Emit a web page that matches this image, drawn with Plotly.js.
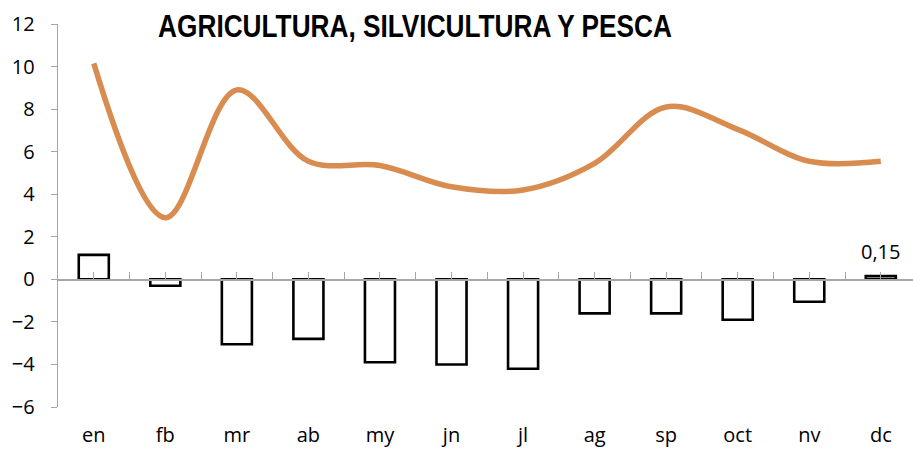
<!DOCTYPE html>
<html>
<head>
<meta charset="utf-8">
<script src="https://cdn.plot.ly/plotly-3.0.1.min.js"></script>
<style>html,body{margin:0;padding:0;background:#fff;}#chart{width:913px;height:449px;}</style>
</head>
<body>
<div id="chart"></div>
<script>
const months = ['en','fb','mr','ab','my','jn','jl','ag','sp','oct','nv','dc'];
const barValues = [1.15, -0.3, -3.05, -2.8, -3.9, -4.0, -4.2, -1.6, -1.6, -1.9, -1.05, 0.15];
const lineValues = [10.15, 2.9, 8.9, 5.55, 5.35, 4.35, 4.2, 5.45, 8.1, 7.05, 5.55, 5.55];
const yTicks = [-6, -4, -2, 0, 2, 4, 6, 8, 10, 12];
const titleText = 'AGRICULTURA, SILVICULTURA Y PESCA';

const yMin = -6, yMax = 12;
const xRange = [-0.5, 11.45];
const tickFont = {family: 'Open Sans, Noto Sans, sans-serif', size: 20, color: '#000'};

// tick positions at category centres and boundaries
const xTickVals = [];
months.forEach((m, i) => { xTickVals.push(i); if (i < months.length - 1) xTickVals.push(i + 0.5); });

const traces = [
  {
    type: 'bar', x: months, y: barValues, width: 0.42,
    marker: {color: '#ffffff', line: {color: '#000000', width: 2.6}},
    hoverinfo: 'skip', showlegend: false
  },
  {
    type: 'scatter', mode: 'lines', x: months, y: lineValues,
    line: {color: '#D98C50', width: 5.5, shape: 'spline', smoothing: 1},
    hoverinfo: 'skip', showlegend: false
  },
  {
    type: 'scatter', mode: 'lines', x: [], y: [], xaxis: 'x2', yaxis: 'y',
    hoverinfo: 'skip', showlegend: false
  }
];

const last = months.length - 1;
const layout = {
  width: 913, height: 449,
  margin: {l: 58, r: 0, t: 24, b: 42},
  paper_bgcolor: '#fff', plot_bgcolor: '#fff',
  title: {
    text: titleText,
    font: {family: 'Liberation Sans, Arial, sans-serif', size: 31, color: '#000', weight: 'bold'},
    x: 415 / 913, xanchor: 'center', xref: 'container',
    y: 1 - 26.5 / 449, yanchor: 'middle', yref: 'container'
  },
  xaxis: {
    type: 'category', categoryorder: 'array', categoryarray: months,
    range: xRange, showline: false, ticks: '', showgrid: false, zeroline: false,
    tickfont: tickFont, ticklabelstandoff: 14
  },
  xaxis2: {
    type: 'linear', overlaying: 'x', anchor: 'free',
    position: (0 - yMin) / (yMax - yMin),
    range: xRange, tickmode: 'array', tickvals: xTickVals,
    ticks: 'inside', ticklen: 7, tickwidth: 1, tickcolor: '#A6A6A6',
    showline: true, linecolor: '#A6A6A6', linewidth: 1.3,
    showticklabels: false, showgrid: false, zeroline: false
  },
  yaxis: {
    range: [yMin, yMax], tickmode: 'array', tickvals: yTicks,
    ticks: 'outside', ticklen: 6, tickcolor: '#A6A6A6', tickwidth: 1,
    showline: true, linecolor: '#A6A6A6', linewidth: 1.3,
    showgrid: false, zeroline: false,
    tickfont: tickFont, ticklabelstandoff: 12
  },
  annotations: [{
    x: months[last], y: barValues[last], xref: 'x', yref: 'y',
    text: barValues[last].toFixed(2).replace('.', ','),
    showarrow: false, yanchor: 'bottom', yshift: 9,
    font: tickFont
  }],
  bargap: 0.5
};

Plotly.newPlot('chart', traces, layout, {staticPlot: true, displayModeBar: false}).then(() => {
  // condense the title horizontally to match the narrow bold face of the original
  const t = document.querySelector('.gtitle');
  if (t) {
    const bb = t.getBBox();
    const targetW = 514, cx = 415;
    const s = targetW / bb.width;
    const bx = bb.x + bb.width / 2;
    t.setAttribute('transform', 'translate(' + cx + ',0) scale(' + s + ',1) translate(' + (-bx) + ',0)');
  }
});
</script>
</body>
</html>
